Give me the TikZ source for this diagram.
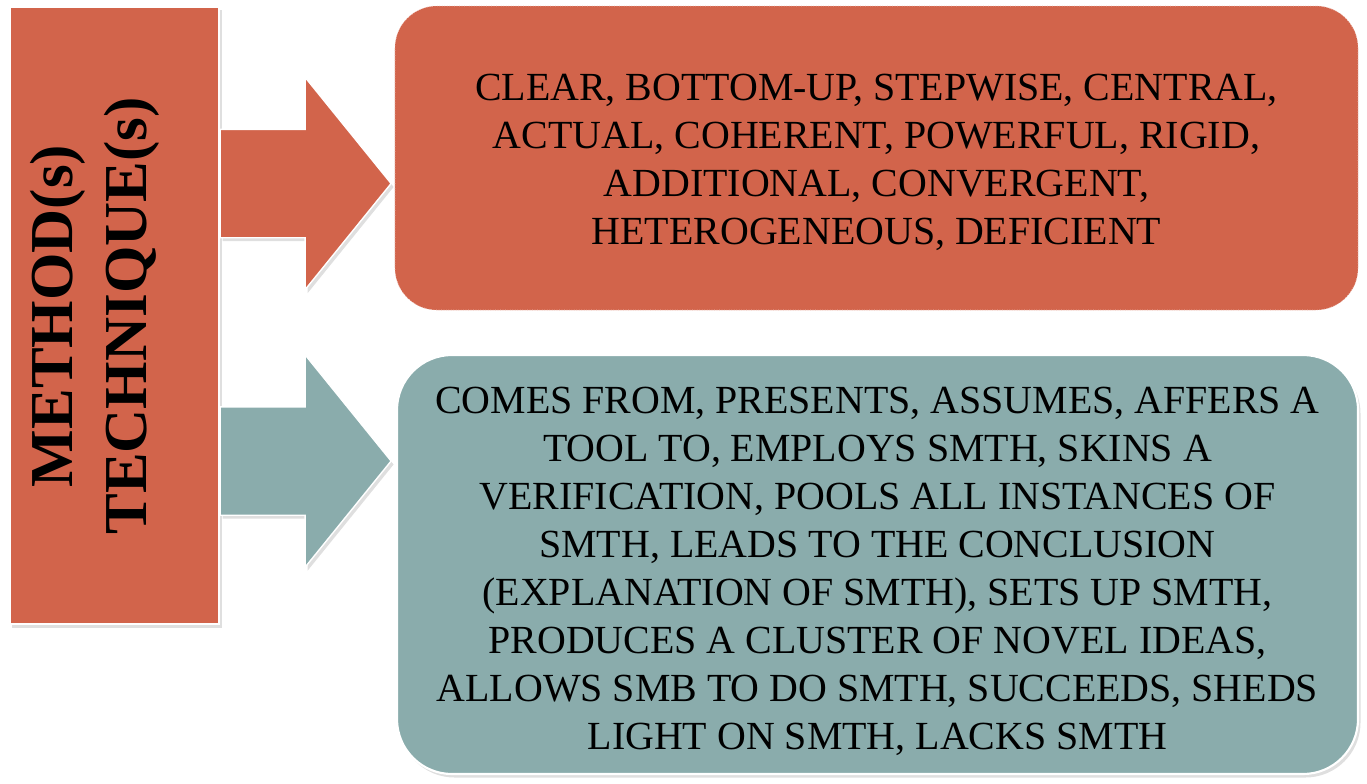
\documentclass[tikz,border=0pt]{standalone}
\usepackage{fontspec}
\setmainfont{Liberation Serif}
\usetikzlibrary{shapes.arrows,shadows}
\definecolor{brick}{HTML}{D2644B}
\definecolor{sage}{HTML}{8AACAC}
\begin{document}
\begin{tikzpicture}[x=0.2mm,y=-0.2mm]
	\tikzstyle{every node}+=[inner sep=0pt]
	\tikzstyle{shade}=[drop shadow={opacity=0.25,shadow xshift=0.5mm,shadow yshift=-0.7mm}]
	\tikzstyle{bigarrow}=[single arrow,anchor=tip,minimum height=34.2mm,single arrow head extend=10.4mm,single arrow tip angle=102,draw=white,line width=0.8pt,shade]
	\tikzstyle{wordbox}=[rectangle,align=center,font=\fontsize{22.7}{27.3}\selectfont]
	\useasboundingbox (0,0) rectangle (1367,783);
	\node [draw=white,line width=1pt,fill=brick,shade,minimum width=41.8mm,minimum height=123.4mm] (lbox) at (114.5,315.5) {};
	\node [rotate=90,align=center,font=\bfseries\fontsize{34.7}{42}\selectfont] (ltext) at (95,316) {METHOD(s)\\TECHNIQUE(s)};
	\node [bigarrow,fill=brick] (arr1) at (392,183.5) {\rule{0pt}{21.4mm}};
	\node [bigarrow,fill=sage] (arr2) at (392,461) {\rule{0pt}{21.4mm}};
	\node [fill=brick,draw=white!60!brick,densely dotted,line width=0.4pt,rounded corners=8.4mm,minimum width=192.6mm,minimum height=60.8mm] (tbox) at (876.5,158) {};
	\node [wordbox] (ttext) at ([yshift=-0.9mm]tbox.center) {CLEAR, BOTTOM-UP, STEPWISE, CENTRAL,\\ACTUAL, COHERENT, POWERFUL, RIGID,\\ADDITIONAL, CONVERGENT,\\HETEROGENEOUS, DEFICIENT};
	\node [fill=sage,draw=white,line width=1.2pt,shade,rounded corners=11mm,minimum width=192.2mm,minimum height=83.8mm] (bbox) at (877.5,564.5) {};
	\node [wordbox] (btext) at ([yshift=-1.4mm]bbox.center) {COMES FROM, PRESENTS, ASSUMES, AFFERS A\\TOOL TO, EMPLOYS SMTH, SKINS A\\VERIFICATION, POOLS ALL INSTANCES OF\\SMTH, LEADS TO THE CONCLUSION\\(EXPLANATION OF SMTH), SETS UP SMTH,\\PRODUCES A CLUSTER OF NOVEL IDEAS,\\ALLOWS SMB TO DO SMTH, SUCCEEDS, SHEDS\\LIGHT ON SMTH, LACKS SMTH};
\end{tikzpicture}
\end{document}
